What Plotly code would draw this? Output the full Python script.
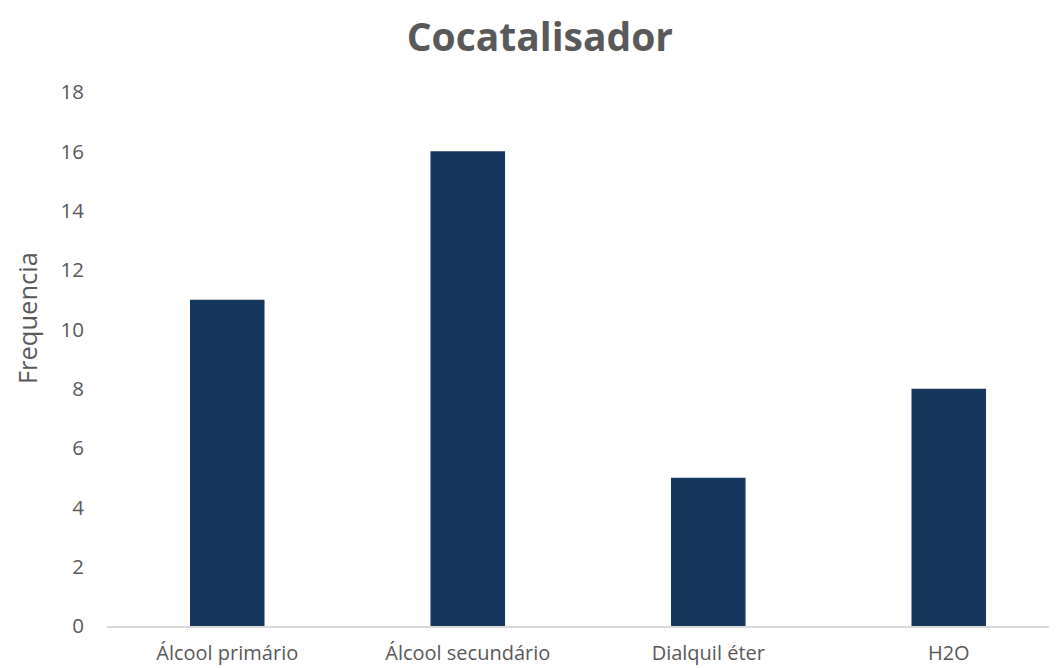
import plotly.graph_objects as go

categories = ["Álcool primário", "Álcool secundário", "Dialquil éter", "H2O"]
values = [11, 16, 5, 8]
y_ticks = [0, 2, 4, 6, 8, 10, 12, 14, 16, 18]

fig = go.Figure(go.Bar(
    x=categories, y=values, marker_color="#17375E", width=0.31,
    marker_line_width=0,
))

fig.update_layout(
    width=1049, height=660,
    paper_bgcolor="white", plot_bgcolor="white",
    margin=dict(l=99, r=0, t=84, b=42, autoexpand=False),
    font=dict(family="Open Sans", color="#595959", size=20),
    title=dict(text="<b>Cocatalisador</b>", x=0.507, xanchor="center", y=0.955, yanchor="middle",
               font=dict(size=39, color="#595959", family="Open Sans")),
    showlegend=False,
    annotations=[dict(text="Frequencia", textangle=-90, xref="paper", yref="paper",
                      x=-0.084, y=0.577, xanchor="center", yanchor="middle", showarrow=False,
                      font=dict(size=25.5, color="#595959"))],
)
fig.update_xaxes(type="category", range=[-0.5, 3.45], showline=True, linecolor="#D9D9D9",
                 linewidth=2, ticks="", showgrid=False, ticklabelstandoff=8,
                 tickfont=dict(size=20, color="#595959"))
fig.update_yaxes(range=[0, 18], tickvals=y_ticks, showgrid=False, zeroline=False, showline=False,
                 ticks="", ticklabelstandoff=22, tickfont=dict(size=20.5, color="#595959"))

fig.write_html("out.html")
